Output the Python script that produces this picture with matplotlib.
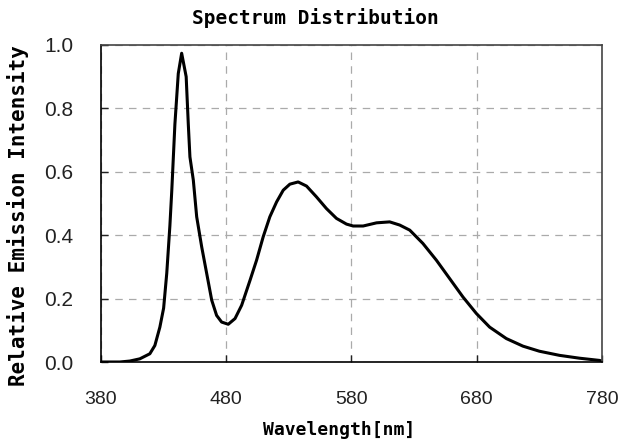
import matplotlib
matplotlib.use('Agg')
import matplotlib.pyplot as plt

wavelength = [380, 395, 403, 411, 419, 423, 427, 430, 432.5, 435, 436.5, 439, 441.7, 444.4,
              448, 449.7, 451, 453.7, 456.4, 460.4, 464.4, 468.4, 472.3, 476.3, 481.6,
              487, 492.3, 499, 504.2, 509.5, 514.8, 520.2, 525.5, 530.8, 537.4, 544.1,
              552, 560, 568, 576, 581.3, 589.3, 600, 610.5, 618.5, 626.5, 637, 647.8,
              658.4, 669, 679.7, 690.3, 703.6, 716.9, 730, 746, 762, 778, 780]
intensity = [0.0, 0.0, 0.003, 0.01, 0.026, 0.052, 0.11, 0.17, 0.28, 0.43, 0.54, 0.75, 0.91, 0.974,
             0.90, 0.75, 0.647, 0.574, 0.458, 0.363, 0.279, 0.195, 0.147, 0.126, 0.119,
             0.137, 0.179, 0.258, 0.321, 0.395, 0.458, 0.505, 0.542, 0.561, 0.568, 0.555,
             0.521, 0.484, 0.453, 0.435, 0.429, 0.429, 0.439, 0.442, 0.432, 0.416, 0.374, 0.321,
             0.263, 0.205, 0.153, 0.11, 0.074, 0.05, 0.034, 0.021, 0.012, 0.005, 0.003]

x_ticks = [380, 480, 580, 680, 780]
y_ticks = [0.0, 0.2, 0.4, 0.6, 0.8, 1.0]

W, H = 623, 444
fig = plt.figure(figsize=(W / 100, H / 100), dpi=100)
ax = fig.add_axes([101 / W, 1 - 362 / H, 501 / W, 317 / H])

ax.plot(wavelength, intensity, color='black', linewidth=2.2, solid_joinstyle='round')

ax.set_xlim(380, 780)
ax.set_ylim(0, 1.0)
ax.set_xticks(x_ticks)
ax.set_yticks(y_ticks)
ax.set_yticklabels([f'{v:.1f}' for v in y_ticks])
ax.grid(True, color='#aaaaaa', linestyle=(0, (6, 5)), linewidth=0.9)
ax.tick_params(direction='in', length=5, width=1, colors='#222222')
ax.tick_params(axis='x', labelsize=14, pad=21)
ax.tick_params(axis='y', labelsize=15, pad=20)
for lbl in ax.get_xticklabels() + ax.get_yticklabels():
    lbl.set_family('Liberation Sans')

for s in ax.spines.values():
    s.set_color('#444444')
    s.set_linewidth(1.2)
ax.spines['left'].set_color('black')
ax.spines['bottom'].set_color('black')

mono = 'DejaVu Sans Mono'
fig.text(315 / W, 1 - 18 / H, 'Spectrum Distribution', family=mono, fontweight='bold',
         fontsize=14, ha='center', va='center')
fig.text(339 / W, 1 - 430 / H, 'Wavelength[nm]', family=mono, fontweight='bold',
         fontsize=13, ha='center', va='center')
fig.text(18 / W, 1 - 216 / H, 'Relative Emission Intensity', family=mono, fontweight='bold',
         fontsize=15, ha='center', va='center', rotation=90)

fig.savefig('out.png', dpi=100)
